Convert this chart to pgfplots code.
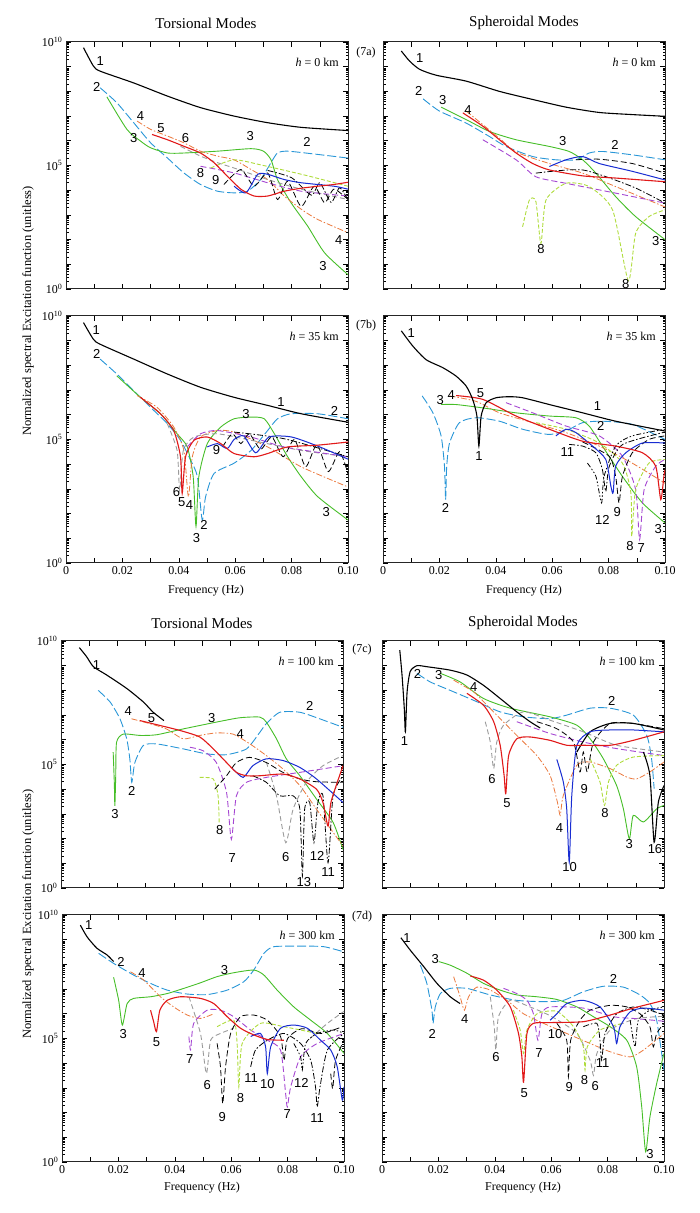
\documentclass[border=0pt]{standalone}
\usepackage{fontspec}
\setmainfont{Liberation Serif}
\newfontfamily\labfont{Liberation Sans}
\usepackage{pgfplots}
\pgfplotsset{compat=1.18}
\definecolor{c2}{RGB}{40,150,215}
\definecolor{c3}{RGB}{70,190,40}
\definecolor{c4}{RGB}{235,120,60}
\definecolor{c5}{RGB}{225,25,25}
\definecolor{c6}{RGB}{155,155,155}
\definecolor{c7}{RGB}{165,70,210}
\definecolor{c8}{RGB}{175,220,60}
\definecolor{c10}{RGB}{25,45,210}
\pgfplotsset{
 myaxis/.style={
   scale only axis, width=282pt, height=247pt, anchor=south west,
   xmin=0, xmax=0.1, ymin=1, ymax=1e10,
   xtick={0,0.01,0.02,0.03,0.04,0.05,0.06,0.07,0.08,0.09,0.1},
   ytick={1,10,100,1000,10000,100000,1000000,1e7,1e8,1e9,1e10},
   minor ytick={2,3,4,5,6,7,8,9,20,30,40,50,60,70,80,90,200,300,400,500,600,700,800,900,
     2e3,3e3,4e3,5e3,6e3,7e3,8e3,9e3,2e4,3e4,4e4,5e4,6e4,7e4,8e4,9e4,
     2e5,3e5,4e5,5e5,6e5,7e5,8e5,9e5,2e6,3e6,4e6,5e6,6e6,7e6,8e6,9e6,
     2e7,3e7,4e7,5e7,6e7,7e7,8e7,9e7,2e8,3e8,4e8,5e8,6e8,7e8,8e8,9e8,
     2e9,3e9,4e9,5e9,6e9,7e9,8e9,9e9},
   major tick length=5pt, minor tick length=2.5pt,
   tick style={line width=0.6pt, black},
   axis line style={line width=1pt, black!85},
   ticklabel style={font=\fontsize{12}{12}\selectfont},
   every axis plot/.append style={smooth, tension=0.4},
 },
 xlab/.style={xticklabels={0,,0.02,,0.04,,0.06,,0.08,,0.10}},
 xnolab/.style={xticklabels={}},
 ylab/.style={yticklabels={10\textsuperscript{0},,,,,10\textsuperscript{5},,,,,10\textsuperscript{10}}},
 ynolab/.style={yticklabels={}},
 m1/.style={black, line width=1.1pt},
 m2/.style={c2, line width=0.9pt, dash pattern=on 9pt off 3pt},
 m3/.style={c3, line width=0.9pt},
 m4/.style={c4, line width=0.8pt, dash pattern=on 6pt off 2pt on 1.5pt off 2pt},
 m5/.style={c5, line width=1.1pt},
 m6/.style={c6, line width=0.9pt, dash pattern=on 5pt off 3pt},
 m7/.style={c7, line width=0.9pt, dash pattern=on 6pt off 3pt},
 m8/.style={c8, line width=0.9pt, dash pattern=on 4pt off 2pt},
 m9/.style={black, line width=0.8pt, dash pattern=on 6pt off 3pt},
 m10/.style={c10, line width=1pt},
 m11/.style={black, line width=0.8pt, dash pattern=on 6pt off 2pt on 1.5pt off 2pt},
 m12/.style={black, line width=0.8pt, dash pattern=on 5pt off 2pt on 1.5pt off 2pt on 1.5pt off 2pt},
}
\newcommand{\lab}[3]{\node[font=\labfont\fontsize{13}{13}\selectfont, inner sep=0pt] at (rel axis cs:{#1*10},{#2/10}) {#3};}
\newcommand{\hlab}[1]{\node[anchor=north east, inner sep=0pt, font=\fontsize{12}{12}\selectfont] at ([xshift=-9pt,yshift=-16pt]rel axis cs:1,1) {\textit{h} = #1 km};}
\begin{document}
\begin{tikzpicture}
\useasboundingbox (0,0) rectangle (700pt,1213pt);
\node[font=\fontsize{15}{15}\selectfont] at (206pt,1190pt) {Torsional Modes};
\node[font=\fontsize{15}{15}\selectfont] at (524pt,1190pt) {Spheroidal Modes};
\node[font=\fontsize{15}{15}\selectfont] at (202pt,590pt) {Torsional Modes};
\node[font=\fontsize{15}{15}\selectfont] at (523pt,590pt) {Spheroidal Modes};
\node[rotate=90, font=\fontsize{12.5}{12.5}\selectfont] at (28pt,902pt) {Normalized spectral Excitation function (unitless)};
\node[rotate=90, font=\fontsize{12.5}{12.5}\selectfont] at (28pt,299pt) {Normalized spectral Excitation function (unitless)};
\node[font=\fontsize{12}{12}\selectfont] at (206pt,622pt) {Frequency (Hz)};
\node[font=\fontsize{12}{12}\selectfont] at (524pt,622pt) {Frequency (Hz)};
\node[font=\fontsize{12}{12}\selectfont] at (202pt,25pt) {Frequency (Hz)};
\node[font=\fontsize{12}{12}\selectfont] at (523pt,25pt) {Frequency (Hz)};
\node[font=\fontsize{12}{12}\selectfont] at (366pt,1160pt) {(7a)};
\node[font=\fontsize{12}{12}\selectfont] at (366pt,887pt) {(7b)};
\node[font=\fontsize{12}{12}\selectfont] at (362pt,563pt) {(7c)};
\node[font=\fontsize{12}{12}\selectfont] at (362pt,296pt) {(7d)};

% ---------------- Panel 7a left: torsional h=0
\begin{axis}[ymode=log, myaxis, at={(66pt,924pt)}, xnolab, ylab]
\addplot[m2] coordinates {(0.0121,1.4e8)(0.018,3.5e7)(0.024,5.4e6)(0.030,8.3e5)(0.036,2.0e5)(0.0418,5.0e4)(0.0477,1.7e4)(0.0537,9.1e3)(0.0596,7.8e3)(0.0644,9.1e3)(0.069,2.7e4)(0.0727,1.3e5)(0.075,3.2e5)(0.0786,3.8e5)(0.0893,2.8e5)(0.1,2.0e5)};
\addplot[m3] coordinates {(0.0145,6.0e7)(0.0216,2.9e6)(0.0264,9.8e5)(0.030,5.2e5)(0.036,3.2e5)(0.0418,3.2e5)(0.0537,3.8e5)(0.0656,4.8e5)(0.070,3.8e5)(0.0727,1.7e5)(0.075,2.7e4)(0.0798,3.1e3)(0.0857,3.5e2)(0.0917,29)(0.1,3.8)};
\addplot[m4] coordinates {(0.0252,6.3e6)(0.030,2.9e6)(0.036,1.55e6)(0.0418,8.3e5)(0.0477,3.8e5)(0.0537,2.4e5)(0.0596,1.7e5)(0.0656,6.9e4)(0.0715,2.7e4)(0.0774,5.8e3)(0.0834,1.7e3)(0.0893,6.5e2)(0.1,1.9e2)};
\addplot[m6] coordinates {(0.0406,6.0e5)(0.0477,2.4e5)(0.0537,1.3e5)(0.0596,7.9e4)(0.0715,2.7e4)(0.0834,1.1e4)(0.1,4.2e3)};
\addplot[m7] coordinates {(0.0477,9.3e4)(0.0596,5.0e4)(0.0715,2.0e4)(0.0834,9.1e3)(0.1,5.8e3)};
\addplot[m8] coordinates {(0.0513,7.9e4)(0.0596,1.7e5)(0.07,1e5)(0.085,4e4)(0.1,1.45e4)};
\addplot[m9] coordinates {(0.056,1.7e4)(0.062,6.9e4)(0.0667,1.45e4)(0.0715,5.0e4)(0.075,4.2e3)(0.0786,2.3e4)(0.0834,2.2e3)(0.088,1.45e4)(0.0917,3.1e3)(0.095,1.1e4)(0.1,4.2e3)};
\addplot[m11] coordinates {(0.0715,6.3e4)(0.08,3.2e4)(0.087,6.3e3)(0.09,2e4)(0.094,3.2e3)(0.097,1.26e4)(0.1,4e3)};
\addplot[m10] coordinates {(0.0596,1.45e4)(0.0638,7.8e3)(0.068,4.4e4)(0.0715,4.4e4)(0.0774,2.7e4)(0.0834,2.0e4)(0.095,1.45e4)(0.1,1.1e4)};
\addplot[m5] coordinates {(0.0305,1.8e6)(0.036,1.1e6)(0.0418,6.0e5)(0.0477,3.2e5)(0.0525,1.3e5)(0.0572,3.7e4)(0.062,1.1e4)(0.0667,5.8e3)(0.0715,5.8e3)(0.0774,9.1e3)(0.0834,1.2e4)(0.0893,1.45e4)(0.095,1.7e4)(0.1,2.1e4)};
\addplot[m1] coordinates {(0.0062,5.9e9)(0.0097,1.07e9)(0.0121,6.6e8)(0.024,2.2e8)(0.0359,6.5e7)(0.0477,2.2e7)(0.0596,1e7)(0.0715,5.4e6)(0.0834,3.5e6)(0.1,2.6e6)};
\hlab{0}
\lab{0.0121}{9.23}{1}
\lab{0.0109}{8.19}{2}
\lab{0.0264}{7.0}{4}
\lab{0.0337}{6.53}{5}
\lab{0.0424}{6.12}{6}
\lab{0.024}{6.12}{3}
\lab{0.0653}{6.19}{3}
\lab{0.0855}{5.95}{2}
\lab{0.0477}{4.70}{8}
\lab{0.0531}{4.43}{9}
\lab{0.0967}{2.0}{4}
\lab{0.0911}{0.92}{3}
\end{axis}

% ---------------- Panel 7a right: spheroidal h=0
\begin{axis}[ymode=log, myaxis, at={(383pt,924pt)}, xnolab, ynolab]
\addplot[m2] coordinates {(0.0142,5.0e7)(0.020,1.6e7)(0.0295,5.2e6)(0.0377,1.5e6)(0.0436,5.9e5)(0.0531,2.3e5)(0.0613,1.7e5)(0.0684,1.7e5)(0.0731,3.2e5)(0.0778,3.7e5)(0.0884,2.7e5)(0.1,1.7e5)};
\addplot[m3] coordinates {(0.0206,2.3e7)(0.0295,7.2e6)(0.0377,2.4e6)(0.0472,1.1e6)(0.059,5.9e5)(0.066,3.7e5)(0.0708,1.7e5)(0.0755,4.9e4)(0.0825,5.5e3)(0.0896,8.5e2)(0.1,1e2)};
\addplot[m4] coordinates {(0.0295,1.6e7)(0.0354,4.5e6)(0.0413,1.26e6)(0.0472,3.5e5)(0.059,1.2e5)(0.0708,4.9e4)(0.0825,1.4e4)(0.1,2.1e3)};
\addplot[m7] coordinates {(0.0354,1.1e6)(0.0472,1.7e5)(0.0542,3.5e4)(0.0649,1.9e4)(0.0825,7.6e3)(0.1,3.0e3)};
\addplot[m8] coordinates {(0.0495,3.3e2)(0.0519,4.0e3)(0.0542,3.5e3)(0.056,69)(0.0578,4.0e3)(0.0649,1.9e4)(0.0731,1.4e4)(0.0814,1.6e3)(0.087,2.2)(0.0896,1.8e2)(0.0943,8.5e2)(0.1,1.6e3)};
\addplot[m11] coordinates {(0.0542,4.9e4)(0.0708,6.6e4)(0.0884,1.4e4)(0.1,3.0e3)};
\addplot[m9] coordinates {(0.0684,1.7e5)(0.0767,1.8e5)(0.0884,1.2e5)(0.1,4.9e4)};
\addplot[m10] coordinates {(0.059,9.1e4)(0.0649,1.7e5)(0.0708,2.3e5)(0.0767,1.2e5)(0.0884,5.8e4)(0.1,2.6e4)};
\addplot[m5] coordinates {(0.0283,1.35e7)(0.0354,3.9e6)(0.0413,1.1e6)(0.0472,3.2e5)(0.0531,1.2e5)(0.059,6.6e4)(0.0708,3.8e4)(0.0825,3.1e4)(0.1,2.2e4)};
\addplot[m1] coordinates {(0.0065,4.3e9)(0.0094,1.7e9)(0.013,7.8e8)(0.0189,4.5e8)(0.0295,2.6e8)(0.0413,1.0e8)(0.0531,4.7e7)(0.0649,2.3e7)(0.0767,1.4e7)(0.0884,1.15e7)(0.1,9.8e6)};
\hlab{0}
\lab{0.013}{9.36}{1}
\lab{0.0127}{8.01}{2}
\lab{0.0212}{7.67}{3}
\lab{0.0301}{7.26}{4}
\lab{0.0637}{5.98}{3}
\lab{0.0823}{5.84}{2}
\lab{0.056}{1.60}{8}
\lab{0.0861}{0.22}{8}
\lab{0.0967}{1.95}{3}
\end{axis}

% ---------------- Panel 7b left: torsional h=35
\begin{axis}[ymode=log, myaxis, at={(66pt,650pt)}, xlab, ylab]
\addplot[m2] coordinates {(0.0121,1.8e8)(0.018,4.5e7)(0.024,9.5e6)(0.03,2.0e6)(0.0359,4.4e5)(0.0406,9.3e4)(0.0442,1.45e4)(0.0466,3.1e3)(0.0483,55)(0.0495,4.8e2)(0.0525,4.2e3)(0.0596,1.1e4)(0.0656,3.6e4)(0.0715,2.3e5)(0.075,6.9e5)(0.0798,1.1e6)(0.0893,1.1e6)(0.1,6.9e5)};
\addplot[m3] coordinates {(0.018,3.8e7)(0.0264,5.1e6)(0.0335,1.1e6)(0.0394,1.7e5)(0.043,5.0e4)(0.0451,3.1e3)(0.0461,30)(0.0471,3.1e3)(0.0501,6.8e4)(0.0549,3.2e5)(0.0596,6.9e5)(0.0656,8.1e5)(0.0703,6.9e5)(0.0739,1.7e5)(0.0786,2.0e4)(0.0834,3.1e3)(0.0893,4.8e2)(0.1,55)};
\addplot[m4] coordinates {(0.0252,6.0e6)(0.0323,2.0e6)(0.0382,3.2e5)(0.0418,3.6e4)(0.0434,4.8e2)(0.0448,2.0e4)(0.0477,1.26e5)(0.0537,2.3e5)(0.0596,2.0e5)(0.0715,5.0e4)(0.0834,7.8e3)(0.1,1.2e3)};
\addplot[m6] coordinates {(0.0359,4.4e5)(0.0394,3.6e4)(0.0403,8.9e2)(0.0416,3.6e4)(0.0454,1.26e5)(0.0537,1.7e5)(0.0656,9.3e4)(0.0834,3.6e4)(0.1,2.0e4)};
\addplot[m7] coordinates {(0.043,5.0e4)(0.0477,1.7e5)(0.0537,2.3e5)(0.0656,1.26e5)(0.0774,5.0e4)(0.1,2.0e4)};
\addplot[m9] coordinates {(0.0555,5.0e4)(0.059,1.7e5)(0.062,6.8e4)(0.065,1.7e5)(0.069,4e4)(0.073,1.26e5)(0.077,2e4)(0.081,1e5)(0.085,7.9e3)(0.089,6.3e4)(0.093,5e3)(0.097,3.2e4)(0.1,4e3)};
\addplot[m11] coordinates {(0.0596,2.0e5)(0.0774,1.07e5)(0.1,2.0e4)};
\addplot[m10] coordinates {(0.0501,5.0e4)(0.0537,6.8e4)(0.0572,4.3e4)(0.0596,1e5)(0.063,1.4e5)(0.0673,2.9e4)(0.072,1.26e5)(0.08,1.26e5)(0.09,5.0e4)(0.1,1.6e4)};
\addplot[m5] coordinates {(0.0264,5.1e6)(0.0335,1.1e6)(0.0382,2.3e5)(0.0406,2.0e4)(0.0412,6.6e2)(0.0424,2.0e4)(0.0454,9.3e4)(0.0501,1.26e5)(0.0549,6.8e4)(0.0596,2.7e4)(0.0667,2.0e4)(0.0715,2.7e4)(0.0786,5.0e4)(0.0893,5.9e4)(0.1,7.9e4)};
\addplot[m1] coordinates {(0.0062,5.4e9)(0.0097,1.15e9)(0.0121,7.2e8)(0.024,1.8e8)(0.0359,4.5e7)(0.0477,1.3e7)(0.0596,5.1e6)(0.0715,2.4e6)(0.0834,1.1e6)(0.1,5.0e5)};
\hlab{35}
\lab{0.0107}{9.42}{1}
\lab{0.0109}{8.48}{2}
\lab{0.0762}{6.51}{1}
\lab{0.0952}{6.15}{2}
\lab{0.0638}{6.04}{3}
\lab{0.0534}{4.56}{9}
\lab{0.0392}{2.89}{6}
\lab{0.041}{2.48}{5}
\lab{0.0438}{2.35}{4}
\lab{0.0489}{1.54}{2}
\lab{0.0463}{1.0}{3}
\lab{0.0923}{2.08}{3}
\end{axis}

% ---------------- Panel 7b right: spheroidal h=35
\begin{axis}[ymode=log, myaxis, at={(383pt,650pt)}, xlab, ynolab]
\addplot[m2] coordinates {(0.0139,5.8e6)(0.0177,1.2e6)(0.0206,1.4e5)(0.0218,8.3e3)(0.0222,3.7e2)(0.0226,8.3e3)(0.0236,7.2e4)(0.0271,4.8e5)(0.033,7.6e5)(0.0413,5.5e5)(0.0495,2.6e5)(0.059,1.6e5)(0.066,2.6e5)(0.0708,4.8e5)(0.0778,5.5e5)(0.0884,4.1e5)(0.1,1.0e5)};
\addplot[m3] coordinates {(0.0206,2.6e6)(0.0259,2.6e6)(0.0354,1.9e6)(0.0472,1.2e6)(0.059,8.9e5)(0.0684,7.6e5)(0.0731,3.5e5)(0.0778,5.4e4)(0.0849,3.2e3)(0.092,2.7e2)(0.1,42)};
\addplot[m4] coordinates {(0.0236,5.8e6)(0.033,3.5e6)(0.0413,1.2e6)(0.0531,4.8e5)(0.0649,1.9e5)(0.0767,5.4e4)(0.0884,1.1e4)(0.1,1.7e3)};
\addplot[m7] coordinates {(0.0436,3.1e6)(0.0531,1.2e6)(0.0649,3.5e5)(0.0767,1.4e5)(0.0849,2.1e4)(0.0896,9.3e2)(0.091,8.9)(0.0926,9.3e2)(0.0967,8.3e3)(0.1,1.55e4)};
\addplot[m8] coordinates {(0.0542,4.8e5)(0.0649,2.6e5)(0.0767,7.2e4)(0.0849,1.1e4)(0.0879,6.9e2)(0.0882,12)(0.0896,9.3e2)(0.0943,1.1e4)(0.1,1.55e4)};
\addplot[m9] coordinates {(0.0708,7.9e4)(0.0802,2.1e4)(0.0825,3.2e3)(0.0837,2.7e2)(0.0849,3.2e3)(0.0884,2.9e4)(0.0943,1.0e5)(0.1,1.4e5)};
\addplot[m12] coordinates {(0.0725,1.1e4)(0.0755,3.2e3)(0.0775,2.7e2)(0.0784,3.2e3)(0.0825,5.4e4)(0.0884,1.4e5)(0.1,2.6e5)};
\addplot[m11] coordinates {(0.066,6.3e4)(0.0708,5.4e4)(0.0755,2.9e4)(0.0778,6.0e3)(0.079,7.9e2)(0.0802,7.9e3)(0.085,6.3e4)(0.1,2.0e5)};
\addplot[m10] coordinates {(0.0613,1.4e5)(0.0649,2.6e5)(0.0684,1.9e5)(0.0743,5.4e4)(0.079,1.55e4)(0.0808,1.3e3)(0.0816,6.9e2)(0.0825,8.3e3)(0.0861,2.9e4)(0.092,7.2e4)(0.1,7.2e4)};
\addplot[m5] coordinates {(0.0259,6.0e6)(0.0354,4.2e6)(0.0472,8.9e5)(0.059,2.6e5)(0.0708,8.5e4)(0.0825,5.4e4)(0.092,2.9e4)(0.0967,8.3e3)(0.0985,3.7e2)(0.0996,3.2e3)(0.1,6.0e3)};
\addplot[m1] coordinates {(0.0065,2.5e9)(0.0106,6.0e8)(0.0153,1.7e8)(0.0212,8.1e7)(0.0259,3.7e7)(0.0295,1.45e7)(0.0318,4.2e6)(0.0333,8.9e5)(0.034,5.4e4)(0.0348,8.9e5)(0.0366,3.1e6)(0.0401,4.9e6)(0.0448,5.4e6)(0.0495,4.9e6)(0.059,2.6e6)(0.0708,1.2e6)(0.0825,5.5e5)(0.1,2.2e5)};
\hlab{35}
\lab{0.01}{9.32}{1}
\lab{0.0203}{6.58}{3}
\lab{0.0242}{6.82}{4}
\lab{0.0346}{6.89}{5}
\lab{0.0761}{6.35}{1}
\lab{0.0772}{5.54}{2}
\lab{0.034}{4.32}{1}
\lab{0.0222}{2.23}{2}
\lab{0.0654}{4.49}{11}
\lab{0.0778}{1.76}{12}
\lab{0.0831}{2.05}{9}
\lab{0.0876}{0.70}{8}
\lab{0.0916}{0.61}{7}
\lab{0.0976}{1.38}{3}
\end{axis}

% ---------------- Panel 7c left: torsional h=100
\begin{axis}[ymode=log, myaxis, at={(61pt,325pt)}, xnolab, ylab]
\addplot[m2] coordinates {(0.0132,1.0e8)(0.0174,3.4e7)(0.0209,7.1e6)(0.0233,1.1e6)(0.0244,1.7e5)(0.0251,1.9e4)(0.0262,1.2e5)(0.0292,5.9e5)(0.0339,6.8e5)(0.0433,4.3e5)(0.0516,2.7e5)(0.0587,2.5e5)(0.0658,4.3e5)(0.0705,2.0e6)(0.0728,4.5e6)(0.0776,1.3e7)(0.0847,1.3e7)(0.0917,7.1e6)(0.1,3.2e6)};
\addplot[m3] coordinates {(0.0185,3.2e5)(0.0189,1.9e4)(0.0191,2.1e3)(0.0194,3.2e4)(0.0197,7.9e5)(0.0221,1.7e6)(0.028,1.5e6)(0.0339,1.6e6)(0.0433,2.75e6)(0.0551,5.2e6)(0.0634,7.8e6)(0.0705,8.3e6)(0.0728,5.2e6)(0.0764,1.1e6)(0.0799,1.7e5)(0.0847,3.5e4)(0.0906,4.0e3)(0.0965,4.5e2)(0.1,36)};
\addplot[m4] coordinates {(0.025,7.1e6)(0.0315,4.5e6)(0.0374,2.75e6)(0.0433,1.1e6)(0.0492,1.5e6)(0.0551,1.9e6)(0.061,1.7e6)(0.067,6.8e5)(0.0728,2.3e5)(0.0787,6.6e4)(0.0847,1.4e4)(0.0906,1.55e3)(0.1,50)};
\addplot[m7] coordinates {(0.0457,5.0e5)(0.0504,3.6e5)(0.0551,1.2e5)(0.0587,7.4e3)(0.0604,93)(0.0622,5.4e3)(0.0658,1.9e4)(0.0728,3.0e4)(0.0847,4.8e4)(0.1,8.9e4)};
\addplot[m8] coordinates {(0.0492,3.0e4)(0.054,2.6e4)(0.0557,5.4e3)(0.0561,4.5e2)};
\addplot[m6] coordinates {(0.0728,1.26e5)(0.0764,5.4e3)(0.0797,68)(0.0823,1.55e3)(0.087,1.9e4)(0.0929,8.9e4)(0.1,2.3e5)};
\addplot[m9] coordinates {(0.0545,1.0e4)(0.0587,3.5e4)(0.0622,1.2e5)(0.0669,1.95e5)(0.0728,1.2e5)(0.0787,4.8e4)(0.0847,2.6e4)(0.0906,2e4)(0.1,1.9e4)};
\addplot[m11] coordinates {(0.068,3.5e4)(0.0728,1.9e4)(0.0776,5.4e3)(0.0823,5.4e3)(0.0847,1.55e3)(0.0856,3.0)(0.0864,1.55e3)(0.0882,2.9e3)(0.0897,68)(0.0911,2.9e3)(0.0929,5.4e3)(0.0947,10.5)(0.0965,5.4e3)(0.1,3.5e4)};
\addplot[m10] coordinates {(0.061,6.6e4)(0.0646,3.0e4)(0.068,8.9e4)(0.0728,1.7e5)(0.0787,1.45e5)(0.0847,7.6e4)(0.0906,2.6e4)(0.1,2.9e3)};
\addplot[m5] coordinates {(0.028,6.0e6)(0.0351,3.8e6)(0.0421,2.4e6)(0.0492,1.3e6)(0.054,4.3e5)(0.0587,1.2e5)(0.0622,4.8e4)(0.0658,3.5e4)(0.0705,3.5e4)(0.0787,4.1e4)(0.0847,2.6e4)(0.0906,1.0e4)(0.0929,2.9e3)(0.0947,3.2e2)(0.0958,3.2e3)(0.1,8.9e4)};
\addplot[m1] coordinates {(0.0065,5.4e9)(0.0091,2.3e9)(0.0115,9.1e8)(0.0162,4.2e8)(0.0233,1.2e8)(0.0292,3.4e7)(0.0327,1.3e7)(0.0365,6.0e6)};
\hlab{100}
\lab{0.0126}{9.02}{1}
\lab{0.0238}{7.15}{4}
\lab{0.0321}{6.88}{5}
\lab{0.0535}{6.88}{3}
\lab{0.0882}{7.37}{2}
\lab{0.0636}{6.24}{4}
\lab{0.0251}{3.93}{2}
\lab{0.0191}{2.99}{3}
\lab{0.0563}{2.35}{8}
\lab{0.0607}{1.22}{7}
\lab{0.0797}{1.26}{6}
\lab{0.0861}{0.23}{13}
\lab{0.0908}{1.29}{12}
\lab{0.0947}{0.64}{11}
\end{axis}

% ---------------- Panel 7c right: spheroidal h=100
\begin{axis}[ymode=log, myaxis, at={(382pt,325pt)}, xnolab, ynolab]
\addplot[m2] coordinates {(0.0124,4.9e8)(0.0171,2.2e8)(0.0242,1.0e8)(0.0336,3.5e7)(0.0419,1.35e7)(0.0502,8.5e6)(0.0596,7.2e6)(0.0655,1.0e7)(0.0738,1.9e7)(0.0809,1.9e7)(0.0891,1.0e7)(0.0939,1.5e6)(0.0956,1.7e5)(0.0965,1.05e4)};
\addplot[m3] coordinates {(0.0207,4.9e8)(0.0277,2.2e8)(0.036,4.7e7)(0.0455,1.9e7)(0.0596,8.5e6)(0.0691,3.9e6)(0.0738,1.1e6)(0.0785,1.7e5)(0.0832,1.4e4)(0.0856,1.6e3)(0.0877,98)(0.0891,8.7e2)(0.0927,4.7e2)(0.0974,1.6e3)(0.1,2.2e3)};
\addplot[m4] coordinates {(0.0254,2.6e8)(0.0325,8.7e7)(0.036,3.5e7)(0.0419,7.2e6)(0.0478,1.5e6)(0.0549,2.3e5)(0.0596,3.6e4)(0.0622,3.0e3)(0.0632,8.7e2)(0.0643,5.6e3)(0.0691,9.3e4)(0.0738,1.26e5)(0.0809,6.8e4)(0.0868,3.1e4)(0.0903,2.6e4)(0.095,5.0e4)(0.1,1.26e5)};
\addplot[m6] coordinates {(0.0366,5.4e6)(0.0384,8.1e5)(0.0396,6.8e4)(0.0407,8.1e5)(0.0431,3.9e6)(0.0502,1.35e7)(0.0596,6.2e6)(0.0714,2.1e6)(0.0832,6.0e5)(0.1,3.2e5)};
\addplot[m7] coordinates {(0.0478,5.4e6)(0.0596,1.8e6)(0.0714,8.1e5)(0.0832,4.4e5)(0.1,2.3e5)};
\addplot[m8] coordinates {(0.0738,1.7e5)(0.0773,1.95e4)(0.0789,2.2e3)(0.0803,1.95e4)(0.0832,9.3e4)(0.0891,2.0e5)(0.1,2.3e5)};
\addplot[m9] coordinates {(0.0549,5.4e6)(0.062,2.8e6)(0.0679,8.1e5)(0.0702,5.0e4)(0.0714,3.2e5)(0.0728,5.0e4)(0.075,8.1e5)(0.0809,4.6e6)(0.0891,4.6e6)(0.1,2.8e6)};
\addplot[m1] coordinates {(0.0691,3.2e5)(0.0738,2.1e6)(0.0809,4.6e6)(0.0891,4.6e6)(0.1,2.5e6)};
\addplot[m1] coordinates {(0.0927,3.2e5)(0.095,3.6e4)(0.0965,71)(0.098,3.0e3)(0.1,1.4e4)};
\addplot[m10] coordinates {(0.062,1.6e5)(0.0643,1.95e4)(0.0655,1.6e3)(0.0664,11)(0.0673,5.6e3)(0.0691,6.0e5)(0.0738,2.1e6)(0.0809,2.5e6)(0.0891,2.5e6)(0.1,2.1e6)};
\addplot[m5] coordinates {(0.0301,7.6e7)(0.036,2.5e7)(0.0396,5.4e6)(0.0419,6.0e5)(0.0433,3.6e4)(0.0439,6.6e3)(0.0449,2.3e5)(0.0478,1.1e6)(0.0525,1.3e6)(0.0596,9.5e5)(0.0655,6.0e5)(0.0714,6.0e5)(0.0809,6.0e5)(0.0891,9.5e5)(0.1,2.1e6)};
\addplot[m1] coordinates {(0.0063,4.3e9)(0.0071,4.2e8)(0.0079,1.9e7)(0.0083,2.1e6)(0.0089,8.7e7)(0.01,5.8e8)(0.0124,1.0e9)(0.0159,9.1e8)(0.0242,6.6e8)(0.0301,4.2e8)(0.036,1.6e8)(0.0419,4.7e7)(0.0478,1.35e7)(0.0525,5.4e6)(0.0561,3.0e6)};
\hlab{100}
\lab{0.008}{5.94}{1}
\lab{0.0126}{8.65}{2}
\lab{0.0201}{8.62}{3}
\lab{0.0325}{8.15}{4}
\lab{0.0815}{7.56}{2}
\lab{0.039}{4.40}{6}
\lab{0.0443}{3.45}{5}
\lab{0.0629}{2.42}{4}
\lab{0.0665}{0.84}{10}
\lab{0.0717}{4.02}{9}
\lab{0.0791}{3.04}{8}
\lab{0.0877}{1.79}{3}
\lab{0.0968}{1.56}{16}
\end{axis}

% ---------------- Panel 7d left: torsional h=300
\begin{axis}[ymode=log, myaxis, at={(62pt,51pt)}, xlab, ylab]
\addplot[m2] coordinates {(0.013,2.8e8)(0.0183,1.1e8)(0.0254,3.7e7)(0.0314,1.7e7)(0.0373,9.1e6)(0.0444,6.3e6)(0.0515,6.0e6)(0.0586,9.1e6)(0.0645,2.0e7)(0.068,5.9e7)(0.0716,2.8e8)(0.0751,5.2e8)(0.0846,5.5e8)(0.0929,5.2e8)(0.1,3.2e8)};
\addplot[m3] coordinates {(0.0183,3.0e7)(0.0201,3.5e6)(0.0214,3.5e5)(0.0231,2.6e6)(0.0254,4.2e6)(0.0314,4.9e6)(0.0373,6.6e6)(0.0432,1.07e7)(0.0491,1.8e7)(0.055,3.2e7)(0.0609,4.6e7)(0.068,5.9e7)(0.0716,3.7e7)(0.0763,9.1e6)(0.0822,1.9e6)(0.0882,5.5e5)(0.0941,1.6e5)(0.1,2.5e4)};
\addplot[m4] coordinates {(0.0243,5.0e7)(0.029,2.3e7)(0.0349,4.9e6)(0.0396,1.9e6)(0.0444,8.9e5)(0.0491,6.5e5)(0.0538,1.0e6)};
\addplot[m6] coordinates {(0.045,4.9e6)(0.0491,1.6e5)(0.0512,3.8e3)(0.0527,8.5e4)(0.0562,1.6e5)(0.0609,2.6e5)};
\addplot[m6] coordinates {(0.088,1e5)(0.094,4e5)(0.1,1.26e6)};
\addplot[m7] coordinates {(0.045,1.2e5)(0.0456,3.4e4)(0.0467,4.1e5)(0.0515,1.4e6)(0.0562,1.4e6)(0.0609,7.6e5)(0.0669,2.2e5)(0.0728,8.5e4)(0.0775,3.4e4)(0.0793,5.9e2)(0.0799,1.7e2)(0.0811,1.1e3)(0.0846,1.8e4)(0.0905,6.3e4)(0.1,1.6e5)};
\addplot[m8] coordinates {(0.055,3.0e5)(0.0609,5.5e5)(0.0621,6.3e4)(0.0627,1.1e3)(0.0639,6.3e4)(0.0704,4.1e5)(0.0787,3.0e5)(0.0905,1.6e5)};
\addplot[m9] coordinates {(0.055,6.3e4)(0.0562,7.1e3)(0.057,2.3e2)(0.058,7.1e3)(0.0598,1.6e5)(0.0633,7.6e5)(0.068,8.9e5)(0.0728,5.5e5)(0.0775,1.2e5)(0.0787,1.3e4)(0.08,1e5)(0.085,2.5e5)(0.092,1.6e5)(0.1,3.2e5)};
\addplot[m11] coordinates {(0.0669,7.1e3)(0.0686,3.4e4)(0.0728,8.5e4)(0.0787,1.6e5)(0.0846,6.3e4)(0.0882,1.3e4)(0.0899,1.1e3)(0.0905,1.7e2)(0.0915,1.1e3)(0.0941,3.4e4)(0.1,1.6e5)};
\addplot[m12] coordinates {(0.0822,6.3e4)(0.0846,1.8e4)(0.0852,5.2e3)(0.0864,6.3e4)(0.0905,1.6e5)(0.0964,2.2e5)(0.1,1.6e5)};
\addplot[m9] coordinates {(0.0953,3.8e3)(0.096,9.3e2)(0.097,1.3e4)(0.1,8.5e4)};
\addplot[m10] coordinates {(0.0669,1.2e5)(0.0704,1.6e5)(0.0722,4.6e4)(0.0728,3.8e3)(0.074,4.6e4)(0.0775,2.6e5)(0.0822,3.5e5)(0.087,2.6e5)(0.0917,8.5e4)(0.0953,3.4e4)(0.0976,7.1e3)(0.0994,3.2e2)(0.1,1.1e3)};
\addplot[m5] coordinates {(0.0314,1.4e6)(0.0325,4.8e5)(0.0335,1.9e5)(0.0347,1.4e6)(0.0373,3.5e6)(0.042,4.9e6)(0.0491,4.2e6)(0.0538,2.6e6)(0.0586,7.6e5)(0.0633,2.6e5)(0.068,1.4e5)(0.0728,9.1e4)(0.0787,8.5e4)};
\addplot[m1] coordinates {(0.0065,3.9e9)(0.0089,1.3e9)(0.0124,4.5e8)(0.016,2.4e8)(0.0183,1.3e8)};
\hlab{300}
\lab{0.0095}{9.59}{1}
\lab{0.0209}{8.11}{2}
\lab{0.0284}{7.66}{4}
\lab{0.0576}{7.77}{3}
\lab{0.0217}{5.18}{3}
\lab{0.0335}{4.86}{5}
\lab{0.0453}{4.15}{7}
\lab{0.0515}{3.11}{6}
\lab{0.0568}{1.82}{9}
\lab{0.0633}{2.57}{8}
\lab{0.0671}{3.38}{11}
\lab{0.0728}{3.15}{10}
\lab{0.0849}{3.20}{12}
\lab{0.0799}{1.96}{7}
\lab{0.0905}{1.80}{11}
\end{axis}

% ---------------- Panel 7d right: spheroidal h=300
\begin{axis}[ymode=log, myaxis, at={(382pt,51pt)}, xlab, ynolab]
\addplot[m2] coordinates {(0.0136,9.3e7)(0.0159,1.7e7)(0.0177,1.4e6)(0.0181,4.1e5)(0.0189,1.9e6)(0.0207,6.6e6)(0.0242,1.07e7)(0.0301,1.07e7)(0.0384,5.8e6)(0.0478,3.5e6)(0.0573,3.1e6)(0.0643,3.5e6)(0.0714,7.8e6)(0.0785,1.3e7)(0.0856,1.2e7)(0.0915,5.8e6)(0.095,2.6e6)(0.0974,5.5e5)(0.1,5.2e3)};
\addplot[m3] coordinates {(0.0201,1.3e8)(0.0242,9.3e7)(0.0301,4.4e7)(0.036,1.7e7)(0.0419,9.1e6)(0.0478,5.8e6)(0.0549,4.9e6)(0.062,3.8e6)(0.0691,1.9e6)(0.075,7.6e5)(0.0809,3.0e5)(0.0868,8.5e4)(0.0903,7.1e3)(0.0921,1.7e2)(0.0935,2.6)(0.095,66)(0.0974,1.5e3)(0.1,2.5e4)};
\addplot[m4] coordinates {(0.0254,3.2e7)(0.0277,4.9e6)(0.0292,1.4e6)(0.0307,4.9e6)(0.0336,1.2e7)(0.0384,9.1e6)(0.0443,3.5e6)(0.0502,1.0e6)(0.0573,4.1e5)(0.0655,1.6e5)(0.0738,6.3e4)(0.0809,2.9e4)(0.088,1.8e4)(0.0927,3.4e4)(0.1,1.6e5)};
\addplot[m6] coordinates {(0.0384,4.9e6)(0.0398,3.0e5)(0.0404,3.4e4)(0.0413,7.6e5)(0.0455,3.5e6)(0.052,2e6)(0.06,7.9e5)(0.0691,1.6e5)(0.0738,1.3e4)(0.075,3.2e3)(0.0762,2.5e4)(0.0809,2.2e5)(0.09,6.3e5)(0.1,7.9e5)};
\addplot[m7] coordinates {(0.0431,1.07e7)(0.0478,6.6e6)(0.0514,3.5e6)(0.0537,1.0e6)(0.0553,8.5e4)(0.0567,1.0e6)(0.0596,1.9e6)(0.0714,1.7e6)(0.0821,7.6e5)(0.0891,6.5e5)(0.1,5e5)};
\addplot[m8] coordinates {(0.0466,1.4e6)(0.049,2.2e5)(0.0502,2.5e4)(0.0514,2.2e5)(0.055,1e6)(0.062,1.26e6)(0.0679,3.0e5)(0.0714,4.6e4)(0.072,5.2e3)(0.0728,4.6e4)(0.0773,2.2e5)(0.085,4e5)};
\addplot[m9] coordinates {(0.062,4.1e5)(0.0655,8.5e4)(0.0661,2.8e3)(0.0669,8.5e4)(0.0702,5.5e5)(0.0738,1.4e6)(0.0809,2.2e6)(0.0868,1.9e6)(0.0915,1.0e6)(0.095,3.0e5)(0.0962,4.6e4)(0.0974,1.6e5)(0.1,4.1e5)};
\addplot[m11] coordinates {(0.0714,3.0e5)(0.0762,4.1e5)(0.0773,8.5e4)(0.0779,1.3e4)(0.0791,1.6e5)(0.0832,1.0e6)(0.0891,1.9e6)(0.095,1.4e6)(0.1,8.9e5)};
\addplot[m12] coordinates {(0.088,5.5e5)(0.0897,4.6e4)(0.0909,5.5e5)(0.095,1.4e6)(0.1,1.9e6)};
\addplot[m10] coordinates {(0.0596,5.5e5)(0.062,1.0e6)(0.0655,2.6e6)(0.0714,3.5e6)(0.0773,1.9e6)(0.0821,3.0e5)(0.0832,6.3e4)(0.0844,3.0e5)(0.088,1.2e6)(0.0927,1.7e6)(0.1,1.4e6)};
\addplot[m5] coordinates {(0.0313,3.4e7)(0.036,2.3e7)(0.0407,9.1e6)(0.0455,1.9e6)(0.0484,1.6e5)(0.0496,1.8e4)(0.0502,1.7e3)(0.0514,1.6e5)(0.0537,4.1e5)(0.0596,4.4e5)(0.0714,4.8e5)(0.0809,8.9e5)(0.0891,1.7e6)(0.1,3.5e6)};
\addplot[m1] coordinates {(0.0067,1.2e9)(0.01,3.8e8)(0.0148,8.1e7)(0.0195,1.7e7)(0.0242,4.9e6)(0.0277,2.6e6)};
\hlab{300}
\lab{0.0089}{9.05}{1}
\lab{0.0189}{8.20}{3}
\lab{0.0821}{7.41}{2}
\lab{0.0178}{5.20}{2}
\lab{0.0293}{5.77}{4}
\lab{0.0404}{4.26}{6}
\lab{0.0504}{2.80}{5}
\lab{0.0557}{4.42}{7}
\lab{0.0614}{5.20}{10}
\lab{0.0664}{3.04}{9}
\lab{0.0718}{3.31}{8}
\lab{0.0756}{3.08}{6}
\lab{0.0782}{3.99}{11}
\lab{0.095}{0.31}{3}
\end{axis}
\end{tikzpicture}
\end{document}
